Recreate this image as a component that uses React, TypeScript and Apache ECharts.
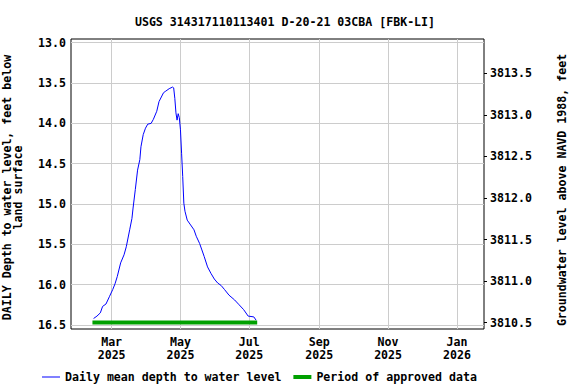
import React, { useEffect, useRef } from "react";
import * as echarts from "echarts";

const FONT = "'DejaVu Sans Mono', 'Liberation Mono', monospace";
const FS = 11.6;

const TITLE = "USGS 314317110113401 D-20-21 03CBA [FBK-LI]";
const SERIES_DAILY = "Daily mean depth to water level";
const SERIES_APPROVED = "Period of approved data";
const LEFT_NAME = "DAILY Depth to water level, feet below\nland surface";
const RIGHT_NAME = "Groundwater level above NAVD 1988, feet";

const dates = [
  "2025-02-13", "2025-02-16", "2025-02-19", "2025-02-21", "2025-02-24", "2025-02-27",
  "2025-03-02", "2025-03-04", "2025-03-06", "2025-03-09", "2025-03-12", "2025-03-14",
  "2025-03-17", "2025-03-19", "2025-03-20", "2025-03-22", "2025-03-24", "2025-03-26",
  "2025-03-27", "2025-03-29", "2025-03-31", "2025-04-02", "2025-04-05", "2025-04-07",
  "2025-04-10", "2025-04-12", "2025-04-16", "2025-04-18", "2025-04-21", "2025-04-24",
  "2025-04-25", "2025-04-26", "2025-04-27", "2025-04-28", "2025-04-29", "2025-04-30",
  "2025-05-01", "2025-05-02", "2025-05-03", "2025-05-04", "2025-05-05", "2025-05-07",
  "2025-05-10", "2025-05-13", "2025-05-15", "2025-05-18", "2025-05-20", "2025-05-22",
  "2025-05-25", "2025-05-28", "2025-05-31", "2025-06-03", "2025-06-06", "2025-06-09",
  "2025-06-13", "2025-06-18", "2025-06-22", "2025-06-26", "2025-06-30", "2025-07-05",
  "2025-07-07",
];
const depths = [
  16.42, 16.39, 16.35, 16.27, 16.24, 16.15,
  16.06, 15.99, 15.9, 15.73, 15.63, 15.53,
  15.32, 15.18, 15.05, 14.82, 14.58, 14.45,
  14.29, 14.14, 14.06, 14.01, 14.0, 13.95,
  13.85, 13.73, 13.62, 13.6, 13.57, 13.55,
  13.56, 13.69, 13.87, 13.96, 13.88, 13.93,
  14.08, 14.37, 14.66, 14.99, 15.09, 15.2,
  15.26, 15.32, 15.4, 15.49, 15.57, 15.65,
  15.78, 15.86, 15.93, 15.98, 16.01, 16.06,
  16.13, 16.19, 16.25, 16.31, 16.39, 16.4,
  16.44,
];

const approvedDates = ["2025-02-12", "2025-07-08"];
const approvedLevel = 16.47;

const depthTicks = [13.0, 13.5, 14.0, 14.5, 15.0, 15.5, 16.0, 16.5];
const elevTicks = [3810.5, 3811.0, 3811.5, 3812.0, 3812.5, 3813.0, 3813.5];
const monthTicks = ["2025-03-01", "2025-05-01", "2025-07-01", "2025-09-01", "2025-11-01", "2026-01-01"];
const monthNames = ["Jan", "Feb", "Mar", "Apr", "May", "Jun", "Jul", "Aug", "Sep", "Oct", "Nov", "Dec"];

const xRange = ["2025-01-24", "2026-01-25"];
const depthRange = [12.954, 16.55];
const elevRange = [3810.424, 3813.913];

const ts = (d: string) => Date.parse(d + "T00:00:00Z");

export default function App() {
  const ref = useRef<HTMLDivElement>(null);

  useEffect(() => {
    if (!ref.current) return;
    const chart = echarts.init(ref.current, undefined, { renderer: "svg" });
    const monthTs = monthTicks.map(ts);
    const labelStyle = { fontFamily: FONT, fontSize: FS, fontWeight: "bold" as const, color: "#000" };

    chart.setOption({
      animation: false,
      textStyle: { fontFamily: FONT },
      title: {
        text: TITLE,
        left: 280,
        top: 11,
        textAlign: "center",
        textStyle: { ...labelStyle },
      },
      grid: {
        left: 71,
        top: 39,
        right: 92,
        bottom: 55,
        containLabel: false,
        outerBoundsMode: "none",
        show: true,
        borderColor: "#000",
        borderWidth: 1,
        backgroundColor: "transparent",
      },
      legend: {
        left: 37,
        top: 366,
        itemWidth: 18,
        itemHeight: 4,
        itemGap: 12,
        textStyle: { ...labelStyle },
        data: [
          { name: SERIES_DAILY, icon: "path://M0,0H18V1H0Z", itemStyle: { color: "#0000ff" } },
          { name: SERIES_APPROVED, icon: "rect", itemStyle: { color: "#00a000" } },
        ],
      },
      xAxis: {
        type: "value",
        min: ts(xRange[0]),
        max: ts(xRange[1]),
        axisLine: { show: false },
        axisTick: { show: false, customValues: monthTs },
        axisLabel: {
          customValues: monthTs,
          formatter: (v: number) => {
            const d = new Date(v);
            return monthNames[d.getUTCMonth()] + "\n" + d.getUTCFullYear();
          },
          ...labelStyle,
          margin: 6,
          lineHeight: 13.5,
          hideOverlap: false,
        },
        splitLine: { show: true, lineStyle: { color: "#cccccc", width: 1 } },
      },
      yAxis: [
        {
          type: "value",
          inverse: true,
          position: "left",
          min: depthRange[0],
          max: depthRange[1],
          name: LEFT_NAME,
          nameLocation: "middle",
          nameGap: 48,
          nameRotate: 90,
          nameTextStyle: { ...labelStyle, lineHeight: 10.5, padding: [0, 7, 0, 0] },
          axisLine: { show: false },
          axisTick: { show: false, customValues: depthTicks },
          axisLabel: {
            customValues: depthTicks,
            formatter: (v: number) => v.toFixed(1),
            ...labelStyle,
            margin: 5,
          },
          splitLine: { show: true, lineStyle: { color: "#cccccc", width: 1 } },
        },
        {
          type: "value",
          position: "right",
          min: elevRange[0],
          max: elevRange[1],
          name: RIGHT_NAME,
          nameLocation: "middle",
          nameGap: 72,
          nameRotate: 90,
          nameTextStyle: { ...labelStyle, padding: [0, 12, 0, 0] },
          axisLine: { show: false },
          axisTick: { show: true, inside: false, length: 3, customValues: elevTicks, lineStyle: { color: "#000" } },
          axisLabel: {
            customValues: elevTicks,
            formatter: (v: number) => v.toFixed(1),
            ...labelStyle,
            margin: 6,
          },
          splitLine: { show: false },
        },
      ],
      series: [
        {
          name: SERIES_APPROVED,
          type: "line",
          yAxisIndex: 0,
          data: approvedDates.map((d) => [ts(d), approvedLevel]),
          symbol: "none",
          lineStyle: { color: "#00a000", width: 4 },
          itemStyle: { color: "#00a000" },
          z: 2,
        },
        {
          name: SERIES_DAILY,
          type: "line",
          yAxisIndex: 0,
          data: dates.map((d, i) => [ts(d), depths[i]]),
          symbol: "none",
          lineStyle: { color: "#0000ff", width: 1 },
          itemStyle: { color: "#0000ff" },
          z: 3,
        },
      ],
    });

    return () => chart.dispose();
  }, []);

  return (
    <div
      ref={ref}
      style={{ position: "fixed", left: 0, top: 0, width: 576, height: 384, background: "#fff" }}
    />
  );
}
